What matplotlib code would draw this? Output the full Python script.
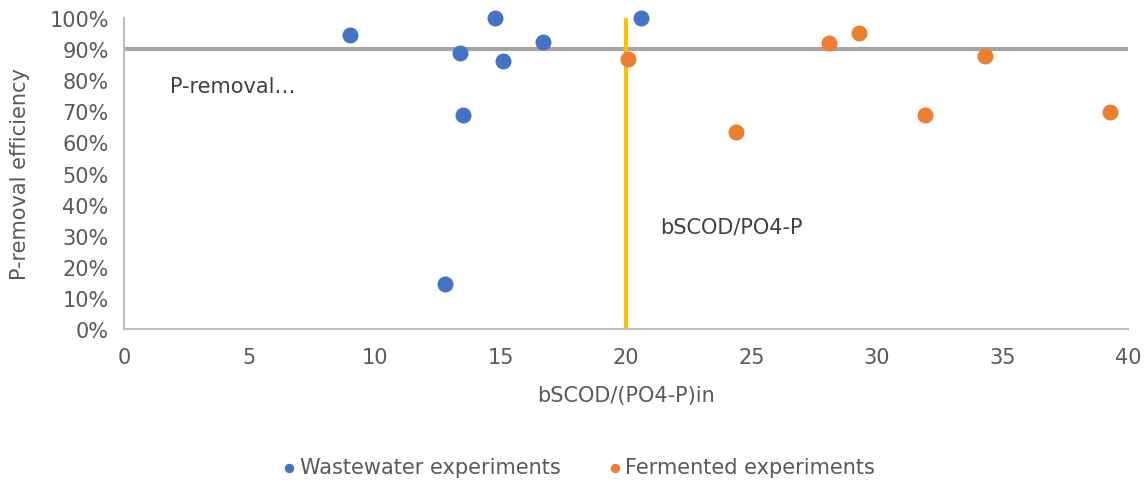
import matplotlib
matplotlib.use("Agg")
import matplotlib.pyplot as plt
from matplotlib.ticker import PercentFormatter

# Ratio bSCOD/(PO4-P)in and P-removal efficiency (%)
ww_ratio = [9.0, 14.8, 13.4, 15.1, 16.7, 13.5, 12.8, 20.6]
ww_eff = [94.5, 100.0, 88.7, 86.2, 92.3, 68.8, 14.5, 100.0]

fe_ratio = [20.1, 24.4, 28.1, 29.3, 31.9, 34.3, 39.3]
fe_eff = [86.8, 63.3, 92.0, 95.2, 68.8, 87.8, 69.8]

target_eff = 90.0     # P-removal target
ratio_threshold = 20.0  # bSCOD/PO4-P threshold

x_ticks = [0, 5, 10, 15, 20, 25, 30, 35, 40]
y_ticks = [0, 10, 20, 30, 40, 50, 60, 70, 80, 90, 100]

TEXT = "#595959"
AXIS = "#BFBFBF"
BLUE = "#4472C4"
ORANGE = "#ED7D31"
YELLOW = "#FFC000"
GRAY = "#A5A5A5"
FS = 15

plt.rcParams["font.family"] = ["DejaVu Sans"]

fig = plt.figure(figsize=(11.47, 4.81), dpi=100)
ax = fig.add_axes([0.1081, 0.3139, 0.8753, 0.6466])

ax.plot([0, 40], [target_eff, target_eff], color=GRAY, lw=3, zorder=2)
ax.plot([ratio_threshold, ratio_threshold], [0, 100], color=YELLOW, lw=3, zorder=2)

ax.scatter(ww_ratio, ww_eff, s=110, color=BLUE, zorder=3,
           label="Wastewater experiments", clip_on=False)
ax.scatter(fe_ratio, fe_eff, s=110, color=ORANGE, zorder=3,
           label="Fermented experiments", clip_on=False)

ax.text(1.85, 78, "P-removal…", color="#404040", fontsize=FS, va="center")
ax.text(21.35, 33, "bSCOD/PO4-P", color="#404040", fontsize=FS, va="center")

ax.set_xlim(0, 40)
ax.set_ylim(0, 100)
ax.set_xticks(x_ticks)
ax.set_yticks(y_ticks)
ax.yaxis.set_major_formatter(PercentFormatter(decimals=0))
ax.tick_params(axis="both", length=0, labelsize=FS, colors=TEXT)
ax.tick_params(axis="x", pad=13)
ax.tick_params(axis="y", pad=11)

for side in ("top", "right"):
    ax.spines[side].set_visible(False)
for side in ("left", "bottom"):
    ax.spines[side].set_color(AXIS)
    ax.spines[side].set_linewidth(1.5)

ax.set_xlabel("bSCOD/(PO4-P)in", fontsize=FS, color=TEXT)
ax.xaxis.set_label_coords(0.5, -0.18)
ax.set_ylabel("P-removal efficiency", fontsize=FS, color=TEXT)
ax.yaxis.set_label_coords(-0.094, 0.5)

fig.legend(loc="center", bbox_to_anchor=(0.503, 0.027), ncol=2, frameon=False,
           fontsize=FS, labelcolor=TEXT, markerscale=0.55, handletextpad=0.0,
           columnspacing=2.1, handlelength=1.0)

fig.savefig("out.png", dpi=100)
